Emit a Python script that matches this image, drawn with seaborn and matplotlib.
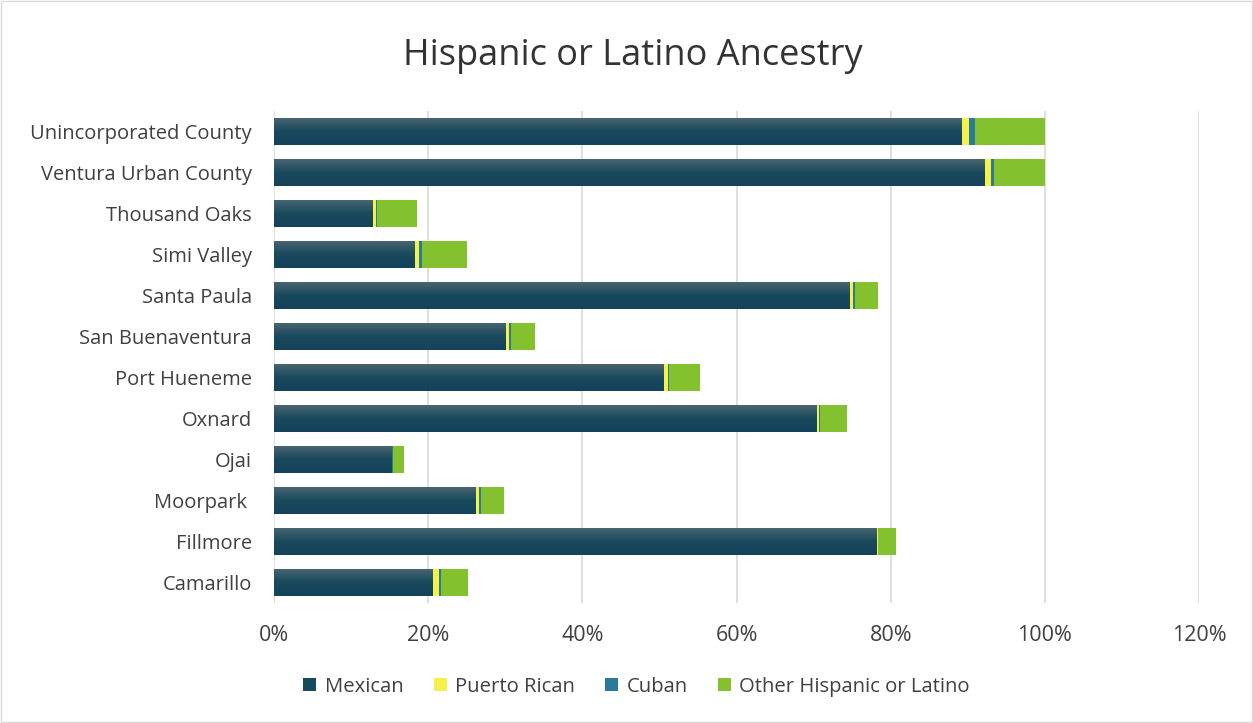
import numpy as np
import pandas as pd
import matplotlib
matplotlib.use("Agg")
import matplotlib.pyplot as plt
import seaborn as sns
from matplotlib.patches import Rectangle, Patch
from matplotlib.colors import LinearSegmentedColormap

places = ["Unincorporated County", "Ventura Urban County", "Thousand Oaks", "Simi Valley",
          "Santa Paula", "San Buenaventura", "Port Hueneme", "Oxnard", "Ojai",
          "Moorpark ", "Fillmore", "Camarillo"]
mexican = [89.2, 92.2, 12.8, 18.2, 74.7, 30.0, 50.5, 70.4, 15.2, 26.1, 78.1, 20.6]
puerto_rican = [0.9, 0.8, 0.4, 0.6, 0.4, 0.5, 0.6, 0.3, 0.1, 0.5, 0.2, 0.8]
cuban = [0.8, 0.4, 0.2, 0.4, 0.3, 0.2, 0.1, 0.1, 0.1, 0.3, 0.1, 0.3]
other = [9.1, 6.6, 5.1, 5.8, 2.9, 3.2, 4.0, 3.5, 1.5, 2.9, 2.3, 3.5]
xtick_vals = [0, 20, 40, 60, 80, 100, 120]

series = ["Mexican", "Puerto Rican", "Cuban", "Other Hispanic or Latino"]
colors = ["#174a5f", "#f6f04a", "#2a7a99", "#84c12e"]

sns.set_theme(style="white")
plt.rcParams['font.family'] = ['Open Sans', 'DejaVu Sans']
text_color = "#404040"

df = pd.DataFrame({"place": places, "Mexican": mexican, "Puerto Rican": puerto_rican,
                   "Cuban": cuban, "Other Hispanic or Latino": other})
cum = df[series].cumsum(axis=1) / 100.0

fig = plt.figure(figsize=(12.53, 7.23), dpi=100)
ax = fig.add_axes([0.2187, 0.166, 0.957 - 0.2187, 0.846 - 0.166])

for s, c in reversed(list(zip(series, colors))):
    sns.barplot(x=cum[s].values, y=df["place"], orient="h", color=c, width=0.66,
                ax=ax, saturation=1, edgecolor="none", linewidth=0)

# gradient on Mexican bars (drawn last)
grad = np.linspace(0, 1, 256).reshape(-1, 1)
cmap = LinearSegmentedColormap.from_list("g", ["#4d6672", "#1a4a5e", "#13425a"])
n = len(places)
mex_patches = ax.patches[-n:]
for p in mex_patches:
    x0, y0 = p.get_x(), p.get_y()
    w, h = p.get_width(), p.get_height()
    im = ax.imshow(grad, cmap=cmap, aspect="auto", extent=(x0, x0 + w, y0 + h, y0),
                   origin="upper", zorder=p.get_zorder() + 0.1, interpolation="bilinear")
    im.set_clip_path(p)

ax.set_xlim(0, 1.2)
ax.set_ylim(n - 0.5, -0.5)
ax.set_xticks([v / 100 for v in xtick_vals])
ax.set_xticklabels([f"{v}%" for v in xtick_vals])
ax.grid(axis="x", color="#d9d9d9", linewidth=1.2)
ax.grid(axis="y", visible=False)
ax.set_axisbelow(True)
for sp in ax.spines.values():
    sp.set_visible(False)
ax.set_xlabel("")
ax.set_ylabel("")
ax.tick_params(axis="both", length=0, colors=text_color)
ax.tick_params(axis="x", pad=16, labelsize=15.5)
ax.tick_params(axis="y", pad=16, labelsize=14.5)

fig.text(0.505, 0.923, "Hispanic or Latino Ancestry", ha="center", va="center",
         fontsize=26, color="#333333", fontweight="normal")

handles = [Patch(facecolor=c, edgecolor="none") for c in colors]
fig.legend(handles, series, loc="center", bbox_to_anchor=(0.508, 0.05), ncol=4,
           frameon=False, fontsize=14.6, handlelength=0.65, handleheight=0.65,
           handletextpad=0.4, columnspacing=1.5, labelcolor=text_color)

fig.patches.append(Rectangle((0.001, 0.001), 0.998, 0.998, transform=fig.transFigure,
                             fill=False, edgecolor="#d9d9d9", linewidth=1))

fig.savefig("out.png", dpi=100, facecolor="white")
